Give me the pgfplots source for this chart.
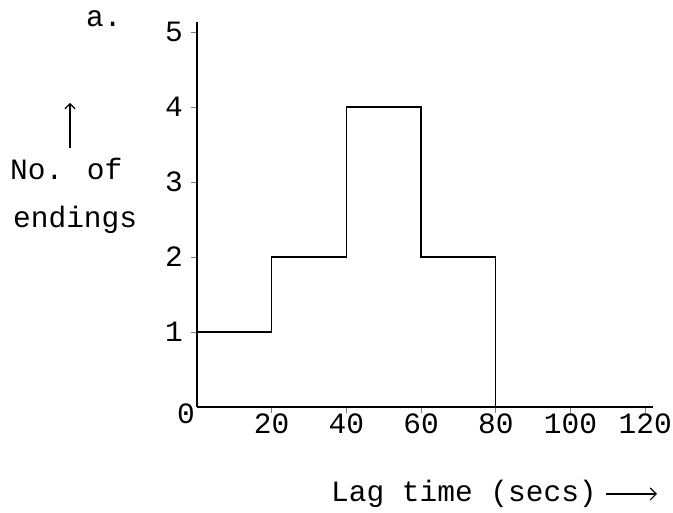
\documentclass[border=0pt]{standalone}
\usepackage{pgfplots}
\pgfplotsset{compat=1.18}
\usetikzlibrary{arrows.meta}
\usepackage{fontspec}
\setmainfont{Liberation Mono}
\begin{document}
\fontsize{29.5}{34}\selectfont
\begin{tikzpicture}[x=1pt,y=1pt]
\useasboundingbox (-197,-106) rectangle (476,407);
\begin{axis}[
  anchor=origin, at={(0,0)},
  x=3.735pt, y=75pt,
  xmin=0, xmax=122, ymin=0, ymax=5.13,
  axis lines*=left,
  axis line style={line width=1.8pt},
  xtick={20,40,60,80,100,120},
  ytick={1,2,3,4,5},
  tick align=outside,
  major tick length=6pt,
  tick style={line width=0.8pt},
  /pgf/number format/assume math mode=true,
  xticklabel style={inner sep=1pt},
  yticklabel style={inner sep=1pt, xshift=-7pt},
]
\addplot[const plot, black, line width=1.4pt] coordinates {
(0,1) (20,2) (40,4) (60,2) (80,0)
};
\end{axis}
\begin{scope}[every node/.style={inner sep=0pt, anchor=base west}]
\node[anchor=center] at (-11,-7) {0};
\node at (-111,380) {a.};
\node at (-187,227) {No. of};
\node at (-184,179) {endings};
\node at (134,-95) {Lag time (secs)};
\end{scope}
\draw[line width=1.2pt,-{Straight Barb[length=6pt]}] (409,-87) -- (460,-87);
\draw[line width=1.2pt,-{Straight Barb[length=5pt]}] (-127,259) -- (-127,304);
\end{tikzpicture}
\end{document}
